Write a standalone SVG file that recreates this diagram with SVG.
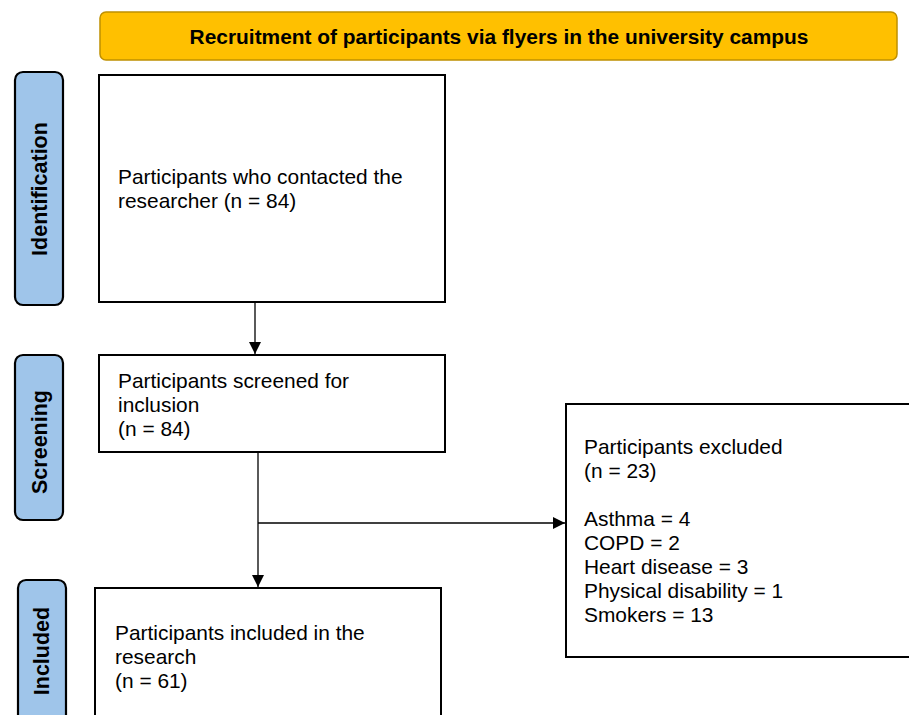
<svg xmlns="http://www.w3.org/2000/svg" width="909" height="715" viewBox="0 0 909 715">
<defs>
<style>
.box{fill:#fff;stroke:#000;stroke-width:2}
.side{fill:#9FC5EA;stroke:#000;stroke-width:2.2}
.t{font-family:"Liberation Sans",Arial,sans-serif;font-size:20.9px;fill:#000}
.s{font-family:"Liberation Sans",Arial,sans-serif;font-size:21.5px;font-weight:bold;fill:#000}
.ln{stroke:#000;stroke-width:1.3;fill:none}
</style>
<marker id="ah" viewBox="0 0 10 10" refX="10" refY="5" markerWidth="12" markerHeight="12" markerUnits="userSpaceOnUse" orient="auto">
<path d="M0,0 L10,5 L0,10 z" fill="#000"/>
</marker>
</defs>
<rect width="909" height="715" fill="#fff"/>
<g id="banner">
<rect x="100" y="12" width="797" height="48" rx="6" fill="#FFC000" stroke="#BF9000" stroke-width="1.5"/>
<text x="499" y="43.5" text-anchor="middle" class="s" style="font-size:20.9px">Recruitment of participants via flyers in the university campus</text>
</g>
<g id="side-identification">
<rect class="side" x="15" y="72" width="48" height="233" rx="8"/>
<text class="s" transform="translate(47,189) rotate(-90)" text-anchor="middle">Identification</text>
</g>
<g id="side-screening">
<rect class="side" x="15" y="355" width="48" height="165" rx="8"/>
<text class="s" transform="translate(47,442) rotate(-90)" text-anchor="middle">Screening</text>
</g>
<g id="side-included">
<rect class="side" x="18" y="580" width="48" height="150" rx="8"/>
<text class="s" transform="translate(49,651) rotate(-90)" text-anchor="middle">Included</text>
</g>
<g id="box-contacted">
<rect class="box" x="99" y="75" width="346" height="227"/>
<text class="t" x="118" y="184">Participants who contacted the</text>
<text class="t" x="118" y="208">researcher (n = 84)</text>
</g>
<g id="box-screened">
<rect class="box" x="99" y="355" width="346" height="97"/>
<text class="t" x="118" y="388">Participants screened for</text>
<text class="t" x="118" y="412">inclusion</text>
<text class="t" x="118" y="436">(n = 84)</text>
</g>
<g id="box-included">
<rect class="box" x="95" y="588" width="346" height="140"/>
<text class="t" x="115" y="640">Participants included in the</text>
<text class="t" x="115" y="664">research</text>
<text class="t" x="115" y="688">(n = 61)</text>
</g>
<g id="box-excluded">
<rect class="box" x="566" y="404" width="350" height="253"/>
<text class="t" x="584" y="454">Participants excluded</text>
<text class="t" x="584" y="478">(n = 23)</text>
<text class="t" x="584" y="526">Asthma = 4</text>
<text class="t" x="584" y="550">COPD = 2</text>
<text class="t" x="584" y="574">Heart disease = 3</text>
<text class="t" x="584" y="598">Physical disability = 1</text>
<text class="t" x="584" y="622">Smokers = 13</text>
</g>
<g id="connectors">
<line class="ln" x1="255" y1="302" x2="255" y2="354" marker-end="url(#ah)"/>
<line class="ln" x1="258" y1="452" x2="258" y2="587" marker-end="url(#ah)"/>
<line class="ln" x1="258" y1="523" x2="565" y2="523" marker-end="url(#ah)"/>
</g>
</svg>
